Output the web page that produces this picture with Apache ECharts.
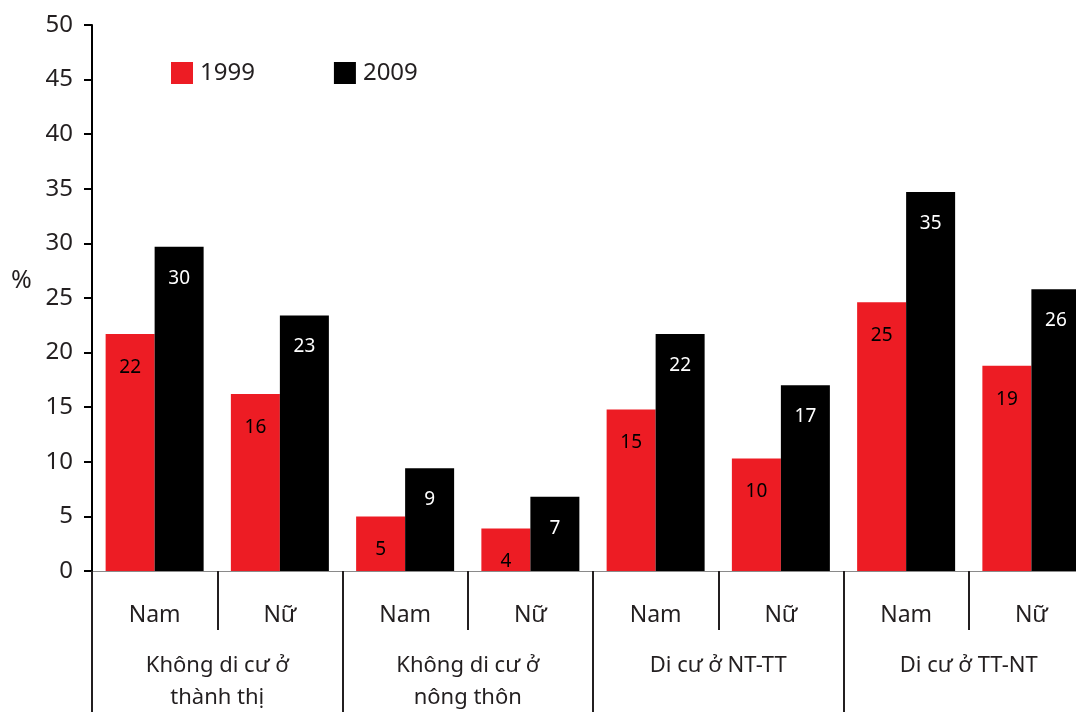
<!DOCTYPE html>
<html>
<head>
<meta charset="utf-8">
<script src="https://cdn.jsdelivr.net/npm/echarts@6/dist/echarts.min.js"></script>
<style>
html, body { margin: 0; padding: 0; background: #fff; overflow: hidden; width: 1076px; height: 714px; }
/* chart is wider than the window: the last bar is cut by the right edge */
#main { width: 1094px; height: 714px; }
</style>
</head>
<body>
<div id="main"></div>
<script>
var sexes = ['Nam', 'Nữ', 'Nam', 'Nữ', 'Nam', 'Nữ', 'Nam', 'Nữ'];
var groups = ['Không di cư ở\nthành thị', 'Không di cư ở\nnông thôn', 'Di cư ở NT-TT', 'Di cư ở TT-NT'];
var data1999 = [21.7, 16.2, 5.0, 3.9, 14.8, 10.3, 24.6, 18.8];
var data2009 = [29.7, 23.4, 9.4, 6.8, 21.7, 17.0, 34.7, 25.8];
var yTicks = [0, 5, 10, 15, 20, 25, 30, 35, 40, 45, 50];

var font = 'Noto Sans';
var ink = '#231f20';

var dom = document.getElementById('main');
var myChart = echarts.init(dom);

var option = {
    animation: false,
    textStyle: { fontFamily: font },
    title: {
        text: '%',
        left: 11,
        top: 268,
        padding: 0,
        textStyle: { fontSize: 25, fontWeight: 'normal', color: ink, fontFamily: font }
    },
    legend: {
        left: 171,
        top: 61,
        padding: 0,
        itemWidth: 22,
        itemHeight: 22,
        itemGap: 79,
        icon: 'rect',
        data: ['1999', '2009'],
        textStyle: { fontSize: 24, color: ink, fontFamily: font, padding: [0, 0, 0, 2] }
    },
    grid: {
        left: 92,
        right: 0,
        top: 25,
        bottom: 141,
        containLabel: false
    },
    xAxis: [
        {
            type: 'category',
            data: sexes,
            position: 'bottom',
            axisLine: { show: true, lineStyle: { color: '#8a8a8a', width: 1 } },
            axisTick: {
                show: true,
                interval: 0,
                length: 59,
                lineStyle: { color: ink, width: 2 }
            },
            axisLabel: {
                interval: 0,
                margin: 31,
                fontSize: 23,
                lineHeight: 26,
                color: ink,
                fontFamily: font
            }
        },
        {
            type: 'category',
            data: groups,
            position: 'bottom',
            offset: 0,
            axisLine: { show: false },
            axisTick: {
                show: true,
                interval: 0,
                length: 141,
                lineStyle: { color: ink, width: 2 }
            },
            axisLabel: {
                interval: 0,
                margin: 79,
                fontSize: 22,
                lineHeight: 32,
                color: ink,
                fontFamily: font
            }
        }
    ],
    yAxis: {
        type: 'value',
        min: yTicks[0],
        max: yTicks[yTicks.length - 1],
        interval: 5,
        axisLine: { show: true, lineStyle: { color: '#000', width: 2 } },
        axisTick: { show: true, length: 8, lineStyle: { color: '#000', width: 2 } },
        splitLine: { show: false },
        axisLabel: { fontSize: 24, color: ink, margin: 19, fontFamily: font }
    },
    series: [
        {
            name: '1999',
            type: 'bar',
            data: data1999,
            barWidth: 49,
            barGap: '0%',
            itemStyle: { color: '#ed1c24' },
            label: {
                show: true,
                position: 'insideTop',
                distance: 24,
                fontSize: 19,
                color: '#000',
                fontFamily: font,
                formatter: function (p) { return Math.round(p.value); }
            }
        },
        {
            name: '2009',
            type: 'bar',
            data: data2009,
            barWidth: 49,
            barGap: '0%',
            itemStyle: { color: '#000' },
            label: {
                show: true,
                position: 'insideTop',
                distance: 22,
                fontSize: 19,
                color: '#fff',
                fontFamily: font,
                formatter: function (p) { return Math.round(p.value); }
            }
        }
    ]
};

if (option && typeof option === "object") {
    myChart.setOption(option, true);
}
</script>
</body>
</html>
